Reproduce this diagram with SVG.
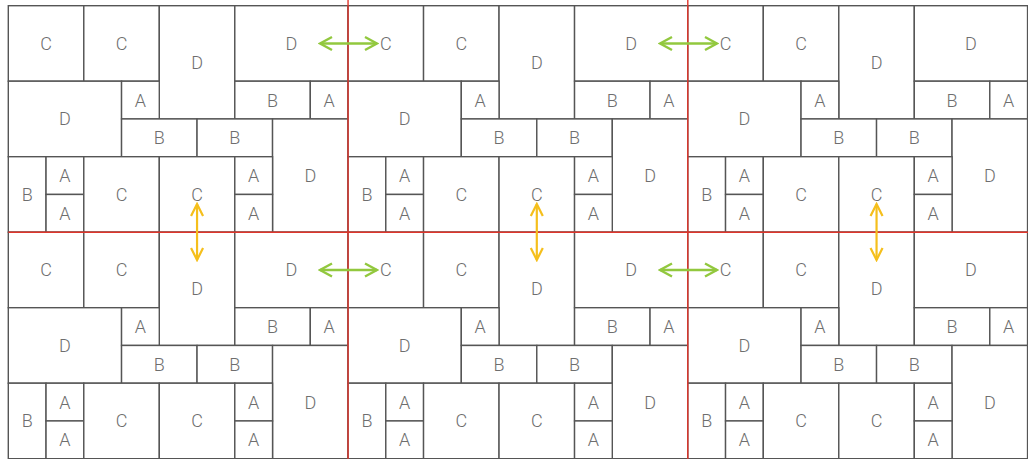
<svg xmlns="http://www.w3.org/2000/svg" width="1028" height="459" viewBox="0 0 1028 459">
<style>
.n rect{fill:#fff;stroke:#555;stroke-width:1.4}
.n text{font-family:Roboto,"Liberation Sans",sans-serif;font-weight:300;font-size:18px;fill:#6e6e6e;text-anchor:middle;dominant-baseline:central}
.red{stroke:#e0352b;stroke-width:1.4;fill:none}
.g{stroke:#92c83e;stroke-width:2.4;fill:none}
.y{stroke:#f5bf1c;stroke-width:2.2;fill:none}
</style>
<defs>
<marker id="mg" markerUnits="userSpaceOnUse" viewBox="0 0 16 16" refX="14" refY="8" markerWidth="16" markerHeight="16" orient="auto-start-reverse"><path d="M2,1.5 L14,8 L2,14.5" fill="none" stroke="#92c83e" stroke-width="2.4"/></marker>
<marker id="my" markerUnits="userSpaceOnUse" viewBox="0 0 16 16" refX="14" refY="8" markerWidth="16" markerHeight="16" orient="auto-start-reverse"><path d="M2,2 L14,8 L2,14" fill="none" stroke="#f5bf1c" stroke-width="2.2"/></marker>
</defs>
<rect width="1028" height="459" fill="#fff"/>

<g id="t1" transform="translate(8.3,5.7)">
<g id="t1-c1" class="n"><rect x="0" y="0" width="75.5" height="75.5"/><text x="37.75" y="37.75">C</text></g>
<g id="t1-c2" class="n"><rect x="75.5" y="0" width="75.5" height="75.5"/><text x="113.25" y="37.75">C</text></g>
<g id="t1-c3" class="n"><rect x="151" y="0" width="75.5" height="113.25"/><text x="188.75" y="56.6">D</text></g>
<g id="t1-c4" class="n"><rect x="226.5" y="0" width="113.25" height="75.5"/><text x="283.1" y="37.75">D</text></g>
<g id="t1-c5" class="n"><rect x="0" y="75.5" width="113.25" height="75.5"/><text x="56.6" y="113.25">D</text></g>
<g id="t1-c6" class="n"><rect x="113.25" y="75.5" width="37.75" height="37.75"/><text x="132.1" y="94.4">A</text></g>
<g id="t1-c7" class="n"><rect x="226.5" y="75.5" width="75.5" height="37.75"/><text x="264.25" y="94.4">B</text></g>
<g id="t1-c8" class="n"><rect x="302" y="75.5" width="37.75" height="37.75"/><text x="320.9" y="94.4">A</text></g>
<g id="t1-c9" class="n"><rect x="113.25" y="113.25" width="75.5" height="37.75"/><text x="151" y="132.1">B</text></g>
<g id="t1-c10" class="n"><rect x="188.75" y="113.25" width="75.5" height="37.75"/><text x="226.5" y="132.1">B</text></g>
<g id="t1-c11" class="n"><rect x="264.25" y="113.25" width="75.5" height="113.25"/><text x="302" y="169.9">D</text></g>
<g id="t1-c12" class="n"><rect x="0" y="151" width="37.75" height="75.5"/><text x="18.9" y="188.75">B</text></g>
<g id="t1-c13" class="n"><rect x="37.75" y="151" width="37.75" height="37.75"/><text x="56.6" y="169.9">A</text></g>
<g id="t1-c14" class="n"><rect x="37.75" y="188.75" width="37.75" height="37.75"/><text x="56.6" y="207.6">A</text></g>
<g id="t1-c15" class="n"><rect x="75.5" y="151" width="75.5" height="75.5"/><text x="113.25" y="188.75">C</text></g>
<g id="t1-c16" class="n"><rect x="151" y="151" width="75.5" height="75.5"/><text x="188.75" y="188.75">C</text></g>
<g id="t1-c17" class="n"><rect x="226.5" y="151" width="37.75" height="37.75"/><text x="245.4" y="169.9">A</text></g>
<g id="t1-c18" class="n"><rect x="226.5" y="188.75" width="37.75" height="37.75"/><text x="245.4" y="207.6">A</text></g>
</g>

<g id="t2" transform="translate(348.05,5.7)">
<g id="t2-c1" class="n"><rect x="0" y="0" width="75.5" height="75.5"/><text x="37.75" y="37.75">C</text></g>
<g id="t2-c2" class="n"><rect x="75.5" y="0" width="75.5" height="75.5"/><text x="113.25" y="37.75">C</text></g>
<g id="t2-c3" class="n"><rect x="151" y="0" width="75.5" height="113.25"/><text x="188.75" y="56.6">D</text></g>
<g id="t2-c4" class="n"><rect x="226.5" y="0" width="113.25" height="75.5"/><text x="283.1" y="37.75">D</text></g>
<g id="t2-c5" class="n"><rect x="0" y="75.5" width="113.25" height="75.5"/><text x="56.6" y="113.25">D</text></g>
<g id="t2-c6" class="n"><rect x="113.25" y="75.5" width="37.75" height="37.75"/><text x="132.1" y="94.4">A</text></g>
<g id="t2-c7" class="n"><rect x="226.5" y="75.5" width="75.5" height="37.75"/><text x="264.25" y="94.4">B</text></g>
<g id="t2-c8" class="n"><rect x="302" y="75.5" width="37.75" height="37.75"/><text x="320.9" y="94.4">A</text></g>
<g id="t2-c9" class="n"><rect x="113.25" y="113.25" width="75.5" height="37.75"/><text x="151" y="132.1">B</text></g>
<g id="t2-c10" class="n"><rect x="188.75" y="113.25" width="75.5" height="37.75"/><text x="226.5" y="132.1">B</text></g>
<g id="t2-c11" class="n"><rect x="264.25" y="113.25" width="75.5" height="113.25"/><text x="302" y="169.9">D</text></g>
<g id="t2-c12" class="n"><rect x="0" y="151" width="37.75" height="75.5"/><text x="18.9" y="188.75">B</text></g>
<g id="t2-c13" class="n"><rect x="37.75" y="151" width="37.75" height="37.75"/><text x="56.6" y="169.9">A</text></g>
<g id="t2-c14" class="n"><rect x="37.75" y="188.75" width="37.75" height="37.75"/><text x="56.6" y="207.6">A</text></g>
<g id="t2-c15" class="n"><rect x="75.5" y="151" width="75.5" height="75.5"/><text x="113.25" y="188.75">C</text></g>
<g id="t2-c16" class="n"><rect x="151" y="151" width="75.5" height="75.5"/><text x="188.75" y="188.75">C</text></g>
<g id="t2-c17" class="n"><rect x="226.5" y="151" width="37.75" height="37.75"/><text x="245.4" y="169.9">A</text></g>
<g id="t2-c18" class="n"><rect x="226.5" y="188.75" width="37.75" height="37.75"/><text x="245.4" y="207.6">A</text></g>
</g>

<g id="t3" transform="translate(687.8,5.7)">
<g id="t3-c1" class="n"><rect x="0" y="0" width="75.5" height="75.5"/><text x="37.75" y="37.75">C</text></g>
<g id="t3-c2" class="n"><rect x="75.5" y="0" width="75.5" height="75.5"/><text x="113.25" y="37.75">C</text></g>
<g id="t3-c3" class="n"><rect x="151" y="0" width="75.5" height="113.25"/><text x="188.75" y="56.6">D</text></g>
<g id="t3-c4" class="n"><rect x="226.5" y="0" width="113.25" height="75.5"/><text x="283.1" y="37.75">D</text></g>
<g id="t3-c5" class="n"><rect x="0" y="75.5" width="113.25" height="75.5"/><text x="56.6" y="113.25">D</text></g>
<g id="t3-c6" class="n"><rect x="113.25" y="75.5" width="37.75" height="37.75"/><text x="132.1" y="94.4">A</text></g>
<g id="t3-c7" class="n"><rect x="226.5" y="75.5" width="75.5" height="37.75"/><text x="264.25" y="94.4">B</text></g>
<g id="t3-c8" class="n"><rect x="302" y="75.5" width="37.75" height="37.75"/><text x="320.9" y="94.4">A</text></g>
<g id="t3-c9" class="n"><rect x="113.25" y="113.25" width="75.5" height="37.75"/><text x="151" y="132.1">B</text></g>
<g id="t3-c10" class="n"><rect x="188.75" y="113.25" width="75.5" height="37.75"/><text x="226.5" y="132.1">B</text></g>
<g id="t3-c11" class="n"><rect x="264.25" y="113.25" width="75.5" height="113.25"/><text x="302" y="169.9">D</text></g>
<g id="t3-c12" class="n"><rect x="0" y="151" width="37.75" height="75.5"/><text x="18.9" y="188.75">B</text></g>
<g id="t3-c13" class="n"><rect x="37.75" y="151" width="37.75" height="37.75"/><text x="56.6" y="169.9">A</text></g>
<g id="t3-c14" class="n"><rect x="37.75" y="188.75" width="37.75" height="37.75"/><text x="56.6" y="207.6">A</text></g>
<g id="t3-c15" class="n"><rect x="75.5" y="151" width="75.5" height="75.5"/><text x="113.25" y="188.75">C</text></g>
<g id="t3-c16" class="n"><rect x="151" y="151" width="75.5" height="75.5"/><text x="188.75" y="188.75">C</text></g>
<g id="t3-c17" class="n"><rect x="226.5" y="151" width="37.75" height="37.75"/><text x="245.4" y="169.9">A</text></g>
<g id="t3-c18" class="n"><rect x="226.5" y="188.75" width="37.75" height="37.75"/><text x="245.4" y="207.6">A</text></g>
</g>

<g id="t4" transform="translate(8.3,232.2)">
<g id="t4-c1" class="n"><rect x="0" y="0" width="75.5" height="75.5"/><text x="37.75" y="37.75">C</text></g>
<g id="t4-c2" class="n"><rect x="75.5" y="0" width="75.5" height="75.5"/><text x="113.25" y="37.75">C</text></g>
<g id="t4-c3" class="n"><rect x="151" y="0" width="75.5" height="113.25"/><text x="188.75" y="56.6">D</text></g>
<g id="t4-c4" class="n"><rect x="226.5" y="0" width="113.25" height="75.5"/><text x="283.1" y="37.75">D</text></g>
<g id="t4-c5" class="n"><rect x="0" y="75.5" width="113.25" height="75.5"/><text x="56.6" y="113.25">D</text></g>
<g id="t4-c6" class="n"><rect x="113.25" y="75.5" width="37.75" height="37.75"/><text x="132.1" y="94.4">A</text></g>
<g id="t4-c7" class="n"><rect x="226.5" y="75.5" width="75.5" height="37.75"/><text x="264.25" y="94.4">B</text></g>
<g id="t4-c8" class="n"><rect x="302" y="75.5" width="37.75" height="37.75"/><text x="320.9" y="94.4">A</text></g>
<g id="t4-c9" class="n"><rect x="113.25" y="113.25" width="75.5" height="37.75"/><text x="151" y="132.1">B</text></g>
<g id="t4-c10" class="n"><rect x="188.75" y="113.25" width="75.5" height="37.75"/><text x="226.5" y="132.1">B</text></g>
<g id="t4-c11" class="n"><rect x="264.25" y="113.25" width="75.5" height="113.25"/><text x="302" y="169.9">D</text></g>
<g id="t4-c12" class="n"><rect x="0" y="151" width="37.75" height="75.5"/><text x="18.9" y="188.75">B</text></g>
<g id="t4-c13" class="n"><rect x="37.75" y="151" width="37.75" height="37.75"/><text x="56.6" y="169.9">A</text></g>
<g id="t4-c14" class="n"><rect x="37.75" y="188.75" width="37.75" height="37.75"/><text x="56.6" y="207.6">A</text></g>
<g id="t4-c15" class="n"><rect x="75.5" y="151" width="75.5" height="75.5"/><text x="113.25" y="188.75">C</text></g>
<g id="t4-c16" class="n"><rect x="151" y="151" width="75.5" height="75.5"/><text x="188.75" y="188.75">C</text></g>
<g id="t4-c17" class="n"><rect x="226.5" y="151" width="37.75" height="37.75"/><text x="245.4" y="169.9">A</text></g>
<g id="t4-c18" class="n"><rect x="226.5" y="188.75" width="37.75" height="37.75"/><text x="245.4" y="207.6">A</text></g>
</g>

<g id="t5" transform="translate(348.05,232.2)">
<g id="t5-c1" class="n"><rect x="0" y="0" width="75.5" height="75.5"/><text x="37.75" y="37.75">C</text></g>
<g id="t5-c2" class="n"><rect x="75.5" y="0" width="75.5" height="75.5"/><text x="113.25" y="37.75">C</text></g>
<g id="t5-c3" class="n"><rect x="151" y="0" width="75.5" height="113.25"/><text x="188.75" y="56.6">D</text></g>
<g id="t5-c4" class="n"><rect x="226.5" y="0" width="113.25" height="75.5"/><text x="283.1" y="37.75">D</text></g>
<g id="t5-c5" class="n"><rect x="0" y="75.5" width="113.25" height="75.5"/><text x="56.6" y="113.25">D</text></g>
<g id="t5-c6" class="n"><rect x="113.25" y="75.5" width="37.75" height="37.75"/><text x="132.1" y="94.4">A</text></g>
<g id="t5-c7" class="n"><rect x="226.5" y="75.5" width="75.5" height="37.75"/><text x="264.25" y="94.4">B</text></g>
<g id="t5-c8" class="n"><rect x="302" y="75.5" width="37.75" height="37.75"/><text x="320.9" y="94.4">A</text></g>
<g id="t5-c9" class="n"><rect x="113.25" y="113.25" width="75.5" height="37.75"/><text x="151" y="132.1">B</text></g>
<g id="t5-c10" class="n"><rect x="188.75" y="113.25" width="75.5" height="37.75"/><text x="226.5" y="132.1">B</text></g>
<g id="t5-c11" class="n"><rect x="264.25" y="113.25" width="75.5" height="113.25"/><text x="302" y="169.9">D</text></g>
<g id="t5-c12" class="n"><rect x="0" y="151" width="37.75" height="75.5"/><text x="18.9" y="188.75">B</text></g>
<g id="t5-c13" class="n"><rect x="37.75" y="151" width="37.75" height="37.75"/><text x="56.6" y="169.9">A</text></g>
<g id="t5-c14" class="n"><rect x="37.75" y="188.75" width="37.75" height="37.75"/><text x="56.6" y="207.6">A</text></g>
<g id="t5-c15" class="n"><rect x="75.5" y="151" width="75.5" height="75.5"/><text x="113.25" y="188.75">C</text></g>
<g id="t5-c16" class="n"><rect x="151" y="151" width="75.5" height="75.5"/><text x="188.75" y="188.75">C</text></g>
<g id="t5-c17" class="n"><rect x="226.5" y="151" width="37.75" height="37.75"/><text x="245.4" y="169.9">A</text></g>
<g id="t5-c18" class="n"><rect x="226.5" y="188.75" width="37.75" height="37.75"/><text x="245.4" y="207.6">A</text></g>
</g>

<g id="t6" transform="translate(687.8,232.2)">
<g id="t6-c1" class="n"><rect x="0" y="0" width="75.5" height="75.5"/><text x="37.75" y="37.75">C</text></g>
<g id="t6-c2" class="n"><rect x="75.5" y="0" width="75.5" height="75.5"/><text x="113.25" y="37.75">C</text></g>
<g id="t6-c3" class="n"><rect x="151" y="0" width="75.5" height="113.25"/><text x="188.75" y="56.6">D</text></g>
<g id="t6-c4" class="n"><rect x="226.5" y="0" width="113.25" height="75.5"/><text x="283.1" y="37.75">D</text></g>
<g id="t6-c5" class="n"><rect x="0" y="75.5" width="113.25" height="75.5"/><text x="56.6" y="113.25">D</text></g>
<g id="t6-c6" class="n"><rect x="113.25" y="75.5" width="37.75" height="37.75"/><text x="132.1" y="94.4">A</text></g>
<g id="t6-c7" class="n"><rect x="226.5" y="75.5" width="75.5" height="37.75"/><text x="264.25" y="94.4">B</text></g>
<g id="t6-c8" class="n"><rect x="302" y="75.5" width="37.75" height="37.75"/><text x="320.9" y="94.4">A</text></g>
<g id="t6-c9" class="n"><rect x="113.25" y="113.25" width="75.5" height="37.75"/><text x="151" y="132.1">B</text></g>
<g id="t6-c10" class="n"><rect x="188.75" y="113.25" width="75.5" height="37.75"/><text x="226.5" y="132.1">B</text></g>
<g id="t6-c11" class="n"><rect x="264.25" y="113.25" width="75.5" height="113.25"/><text x="302" y="169.9">D</text></g>
<g id="t6-c12" class="n"><rect x="0" y="151" width="37.75" height="75.5"/><text x="18.9" y="188.75">B</text></g>
<g id="t6-c13" class="n"><rect x="37.75" y="151" width="37.75" height="37.75"/><text x="56.6" y="169.9">A</text></g>
<g id="t6-c14" class="n"><rect x="37.75" y="188.75" width="37.75" height="37.75"/><text x="56.6" y="207.6">A</text></g>
<g id="t6-c15" class="n"><rect x="75.5" y="151" width="75.5" height="75.5"/><text x="113.25" y="188.75">C</text></g>
<g id="t6-c16" class="n"><rect x="151" y="151" width="75.5" height="75.5"/><text x="188.75" y="188.75">C</text></g>
<g id="t6-c17" class="n"><rect x="226.5" y="151" width="37.75" height="37.75"/><text x="245.4" y="169.9">A</text></g>
<g id="t6-c18" class="n"><rect x="226.5" y="188.75" width="37.75" height="37.75"/><text x="245.4" y="207.6">A</text></g>
</g>

<g id="tile-bounds" class="red">
<line x1="348.05" y1="0" x2="348.05" y2="459"/>
<line x1="687.8" y1="0" x2="687.8" y2="459"/>
<line x1="8.3" y1="232.2" x2="1028" y2="232.2"/>
</g>

<g id="connectors">
<line class="g" x1="320" y1="43.45" x2="377" y2="43.45" marker-start="url(#mg)" marker-end="url(#mg)"/>
<line class="g" x1="660" y1="43.45" x2="717" y2="43.45" marker-start="url(#mg)" marker-end="url(#mg)"/>
<line class="g" x1="320" y1="269.95" x2="377" y2="269.95" marker-start="url(#mg)" marker-end="url(#mg)"/>
<line class="g" x1="660" y1="269.95" x2="717" y2="269.95" marker-start="url(#mg)" marker-end="url(#mg)"/>
<line class="y" x1="197.05" y1="204" x2="197.05" y2="260" marker-start="url(#my)" marker-end="url(#my)"/>
<line class="y" x1="536.8" y1="204" x2="536.8" y2="260" marker-start="url(#my)" marker-end="url(#my)"/>
<line class="y" x1="876.55" y1="204" x2="876.55" y2="260" marker-start="url(#my)" marker-end="url(#my)"/>
</g>
</svg>
